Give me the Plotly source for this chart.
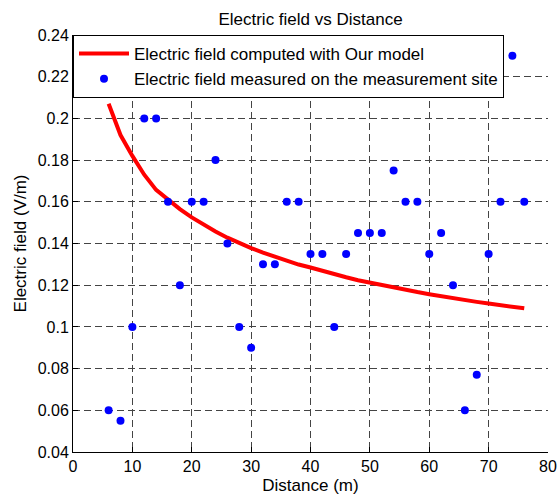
import plotly.graph_objects as go

# Measured data
meas_x = [6, 8, 10, 12, 14, 16, 18, 20, 22, 24, 26, 28, 30, 32, 34, 36, 38, 40,
          42, 44, 46, 48, 50, 52, 54, 56, 58, 60, 62, 64, 66, 68, 70, 72, 74, 76]
meas_y = [0.06, 0.055, 0.10, 0.20, 0.20, 0.16, 0.12, 0.16, 0.16, 0.18, 0.14, 0.10,
          0.09, 0.13, 0.13, 0.16, 0.16, 0.135, 0.135, 0.10, 0.135, 0.145, 0.145,
          0.145, 0.175, 0.16, 0.16, 0.135, 0.145, 0.12, 0.06, 0.077, 0.135, 0.16,
          0.23, 0.16]

# Model curve
model_x = [6, 8, 10, 12, 14, 16, 18, 20, 22, 24, 26, 28, 30, 32, 34, 36, 38, 40,
           42, 44, 46, 48, 50, 52, 54, 56, 58, 60, 62, 64, 66, 68, 70, 72, 74, 76]
model_y = [0.207, 0.192, 0.182, 0.173, 0.1657, 0.161, 0.1565, 0.1525, 0.149, 0.1458,
           0.1428, 0.1402, 0.1378, 0.1356, 0.1336, 0.1316, 0.1299, 0.1285, 0.1268,
           0.1252, 0.1238, 0.1224, 0.1212, 0.1199, 0.1187, 0.1177, 0.1167, 0.1157,
           0.1147, 0.1138, 0.1129, 0.1120, 0.1112, 0.1105, 0.1097, 0.1089]

FONT = "Liberation Sans, Arial, sans-serif"

fig = go.Figure()
fig.add_trace(go.Scatter(
    x=model_x, y=model_y, mode="lines",
    line=dict(color="#FF0000", width=4),
    name="Electric field computed with Our model", legendgroup="a"))
fig.add_trace(go.Scatter(
    x=meas_x, y=meas_y, mode="markers",
    marker=dict(color="#0000FF", size=8, line=dict(width=0)),
    name="Electric field measured on the measurement site", legendgroup="b"))

grid = dict(showgrid=True, gridcolor="#444444", gridwidth=1, griddash="7px,4px",
            zeroline=False, showline=True, linecolor="black", linewidth=1,
            ticks="inside", ticklen=5, tickcolor="black", automargin=False,
            tickfont=dict(size=16, color="black", family=FONT))

fig.update_layout(
    width=558, height=502,
    margin=dict(l=73, r=10, t=35, b=50),
    paper_bgcolor="white", plot_bgcolor="white",
    font=dict(family=FONT, size=17, color="black"),
    title=dict(text="Electric field vs Distance", x=0.5565, xanchor="center",
               y=0.962, yanchor="middle", font=dict(size=17, color="black")),
    xaxis=dict(range=[0, 80], dtick=10, tick0=0,
               title=dict(text="Distance (m)", standoff=4, font=dict(size=17)), **grid),
    yaxis=dict(range=[0.04, 0.24], dtick=0.02, tick0=0.04,
               title=dict(text="Electric field (V/m)", standoff=6, font=dict(size=17)), **grid),
    legend=dict(x=0, y=1, xanchor="left", yanchor="top",
                bgcolor="white", bordercolor="black", borderwidth=1,
                font=dict(size=17, color="black", family=FONT),
                tracegroupgap=0, itemwidth=50),
    showlegend=True,
)

fig.write_html("out.html",
               config={"displayModeBar": False},
               post_script="document.body.style.margin='0';document.body.style.overflow='hidden';")
